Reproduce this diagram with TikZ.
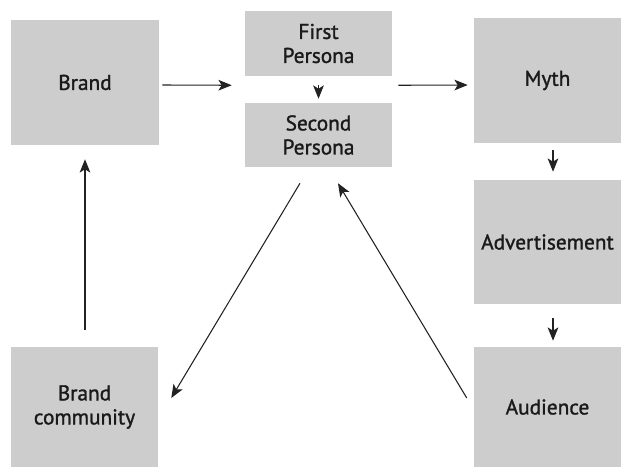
\documentclass[tikz,border=0pt]{standalone}
\usepackage{fontspec}
\setmainfont{PT Sans}
\newfontfamily\boxfont{PT Sans}[BoldFont={PT Sans}, BoldFeatures={FakeBold=1.3}]
\usetikzlibrary{arrows.meta,calc}
\definecolor{boxgray}{HTML}{CDCDCD}
\definecolor{textdark}{HTML}{1A1A1A}
\definecolor{linegray}{HTML}{222222}
\begin{document}
\begin{tikzpicture}[x=0.75pt,y=-0.75pt,
  box/.style={fill=boxgray, draw=none, inner sep=0pt, align=center,
    font=\boxfont\bfseries\fontsize{16}{18}\selectfont, text=textdark},
  arr/.style={draw=linegray, line width=0.8pt,
    -{Stealth[length=10pt,width=8pt,inset=2.5pt]}}]
\useasboundingbox (0,0) rectangle (621,467);
\node[box, minimum width=111pt, minimum height=93.75pt] (brand) at (85,82.5) {Brand};
\node[box, minimum width=110.25pt, minimum height=48.75pt] (first) at (318.5,43.5) {First\\Persona};
\node[box, minimum width=110.25pt, minimum height=48pt] (second) at (318.5,135) {Second\\Persona};
\node[box, minimum width=110.25pt, minimum height=93.75pt] (myth) at (547.5,80.5) {Myth};
\node[box, minimum width=110.25pt, minimum height=93pt] (adv) at (547.5,242) {Advertisement};
\node[box, minimum width=110.25pt, minimum height=90pt] (aud) at (547.5,407) {Audience};
\node[box, minimum width=110.25pt, minimum height=90pt] (comm) at (84.5,407) {Brand\\community};

\draw[arr] ($(brand.east)+(3,2.5)$) -- ($(first.south west)+(-13,9)$);
\draw[arr] ($(first.south east)+(6,9)$) -- ($(myth.west)+(-6,4.5)$);
\draw[arr] ($(first.south)+(0,9)$) -- ($(second.north)+(0,-4)$);
\draw[arr] ($(myth.south)+(5.5,7)$) -- ($(adv.north)+(5.5,-8)$);
\draw[arr] ($(adv.south)+(5.5,14)$) -- ($(aud.north)+(5.5,-6)$);
\draw[arr] ($(comm.north)+(0.5,-17)$) -- ($(brand.south)+(0,14)$);
\draw[arr] ($(second.south)+(-18.5,16)$) -- ($(comm.east)+(13,-9)$);
\draw[arr] ($(aud.west)+(-7,-9)$) -- ($(second.south)+(19.5,16)$);
\end{tikzpicture}
\end{document}
